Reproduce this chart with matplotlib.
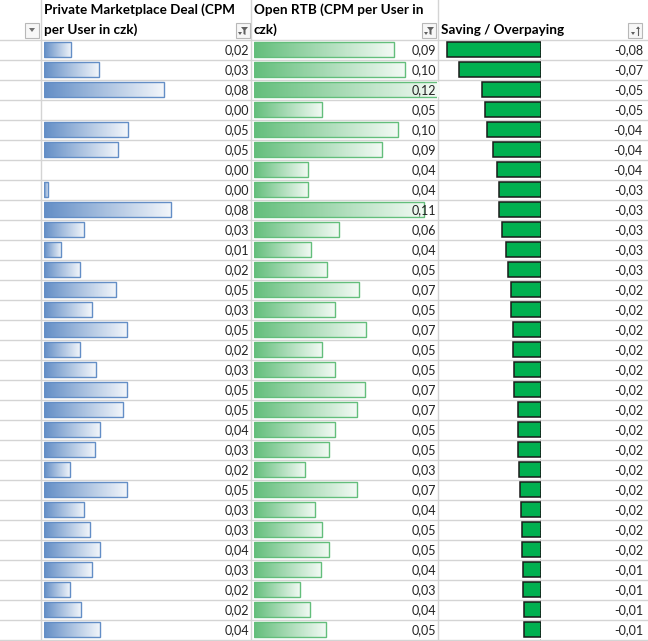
import matplotlib.pyplot as plt
import numpy as np
from matplotlib.colors import LinearSegmentedColormap
from matplotlib.patches import Rectangle, Polygon

# Data (CPM per user in czk)
private_deal = [0.0173, 0.0348, 0.0752, 0.0, 0.0525, 0.0463, 0.0, 0.003, 0.0794, 0.0256,
                0.011, 0.023, 0.0452, 0.030, 0.0519, 0.023, 0.0325, 0.0519, 0.0494, 0.0354,
                0.0319, 0.0167, 0.0519, 0.0256, 0.0292, 0.0352, 0.030, 0.0163, 0.0236, 0.0352]
open_rtb = [0.0932, 0.1005, 0.1219, 0.0452, 0.0956, 0.0852, 0.0358, 0.0364, 0.113, 0.0565,
            0.0384, 0.049, 0.0697, 0.0538, 0.0744, 0.0452, 0.0538, 0.0737, 0.0684, 0.0538,
            0.0499, 0.0344, 0.0684, 0.041, 0.0452, 0.0499, 0.0444, 0.0305, 0.0371, 0.0483]
saving = [-0.077, -0.067, -0.0478, -0.046, -0.0438, -0.0395, -0.0363, -0.0341, -0.0341, -0.0317,
          -0.0283, -0.0267, -0.0248, -0.0243, -0.0226, -0.0226, -0.0218, -0.0218, -0.0186, -0.0186,
          -0.0186, -0.0178, -0.017, -0.0162, -0.0154, -0.0154, -0.0146, -0.0146, -0.0138, -0.0138]
headers = [["Private Marketplace Deal (CPM", "per User in czk)"],
           ["Open RTB (CPM per User in", "czk)"],
           ["", "Saving / Overpaying"]]

W, H = 648, 641
n = len(private_deal)
HEAD = 40   # header row height (px)
ROW = 20    # data row height (px)
col_edges = [41, 251, 438, 648]
font = "Lato"
grid_c = "#D4D4D4"

fig = plt.figure(figsize=(W / 100, H / 100), dpi=100)

# sheet layer in pixel coords
sh = fig.add_axes([0, 0, 1, 1])
sh.set_xlim(0, W)
sh.set_ylim(H, 0)
sh.axis("off")
for i in range(n + 1):
    sh.axhline(HEAD + i * ROW, color=grid_c, lw=1, zorder=0)
for x in col_edges[:3]:
    sh.axvline(x, color=grid_c, lw=1, zorder=0)

# headers
for j, lines in enumerate(headers):
    x0 = col_edges[j] + 3
    sh.text(x0, 10, lines[0], ha="left", va="center", fontsize=9.75,
            fontweight="bold", family=font, color="black")
    sh.text(x0, 30, lines[1], ha="left", va="center", fontsize=9.75,
            fontweight="bold", family=font, color="black")

# filter buttons
def button(x, kind):
    sh.add_patch(Rectangle((x, 23), 14, 15, facecolor="#F7F7F7", edgecolor="#B8B8B8", lw=0.8))
    if kind == "drop":
        sh.add_patch(Polygon([[x + 4, 28], [x + 10, 28], [x + 7, 32]], closed=True,
                             facecolor="#707070", edgecolor="none"))
    elif kind == "filter":
        sh.add_patch(Polygon([[x + 5, 27], [x + 12, 27], [x + 9.5, 30], [x + 9.5, 35],
                              [x + 7.5, 34], [x + 7.5, 30]], closed=True,
                             facecolor="#606060", edgecolor="none"))
        sh.add_patch(Polygon([[x + 2, 32], [x + 6, 32], [x + 4, 35]], closed=True,
                             facecolor="#606060", edgecolor="none"))
    else:
        sh.plot([x + 10, x + 10], [27, 35], color="#606060", lw=0.8)
        sh.add_patch(Polygon([[x + 8, 29], [x + 12, 29], [x + 10, 26.5]], closed=True,
                             facecolor="#606060", edgecolor="none"))
        sh.add_patch(Polygon([[x + 3, 32], [x + 7, 32], [x + 5, 35]], closed=True,
                             facecolor="#606060", edgecolor="none"))

button(25, "drop")
button(236, "filter")
button(422, "filter")
button(628, "sort")

# data bars
grad = np.linspace(0, 1, 256).reshape(1, -1)
rows = np.arange(n) + 0.47

def bar_axes(left_px, width_px):
    a = fig.add_axes([left_px / W, (H - HEAD - n * ROW) / H, width_px / W, n * ROW / H])
    a.axis("off")
    a.patch.set_alpha(0)
    return a

def gradient_bars(ax, vals, color, px_per_unit, width_px):
    cmap = LinearSegmentedColormap.from_list("g", [color, "#FFFFFF"])
    vals = np.array(vals)
    bars = ax.barh(rows, vals, height=0.78, facecolor="none",
                   edgecolor=[color if v > 0 else "none" for v in vals], lw=1, zorder=3)
    for b, v in zip(bars, vals):
        if v <= 0:
            continue
        x0, y0, w, h = b.get_x(), b.get_y(), b.get_width(), b.get_height()
        im = ax.imshow(grad, extent=[x0, x0 + w, y0 + h, y0], cmap=cmap,
                       aspect="auto", zorder=2, interpolation="bilinear", vmin=0, vmax=1.08)
        im.set_clip_path(b)
    ax.set_xlim(0, width_px / px_per_unit)
    ax.set_ylim(n, 0)

ax_b = bar_axes(43.5, 200)
gradient_bars(ax_b, private_deal, "#638EC6", 1600, 200)

ax_c = bar_axes(253.5, 183)
gradient_bars(ax_c, open_rtb, "#63BE7B", 1510, 183)

ax_d = bar_axes(441, 100)
ax_d.barh(rows, saving, height=0.78, color="#00B050", edgecolor="#1A1A1A", lw=1.1, zorder=2)
ax_d.axvline(0, color="black", lw=1, ls=(0, (1, 1)), zorder=3)
ax_d.set_xlim(-100 / 1225, 0)
ax_d.set_ylim(n, 0)

# number labels, drawn on top of the bars
def fmt(v):
    return f"{v:.2f}".replace(".", ",")

for i in range(n):
    y = HEAD + i * ROW + 10
    for x, v in [(249, private_deal[i]), (436, open_rtb[i]), (643, saving[i])]:
        fig.text(x, y, fmt(v), transform=sh.transData, ha="right", va="center",
                 fontsize=9, family=font, color="#222222", zorder=10)

fig.savefig("out.png", dpi=100)
